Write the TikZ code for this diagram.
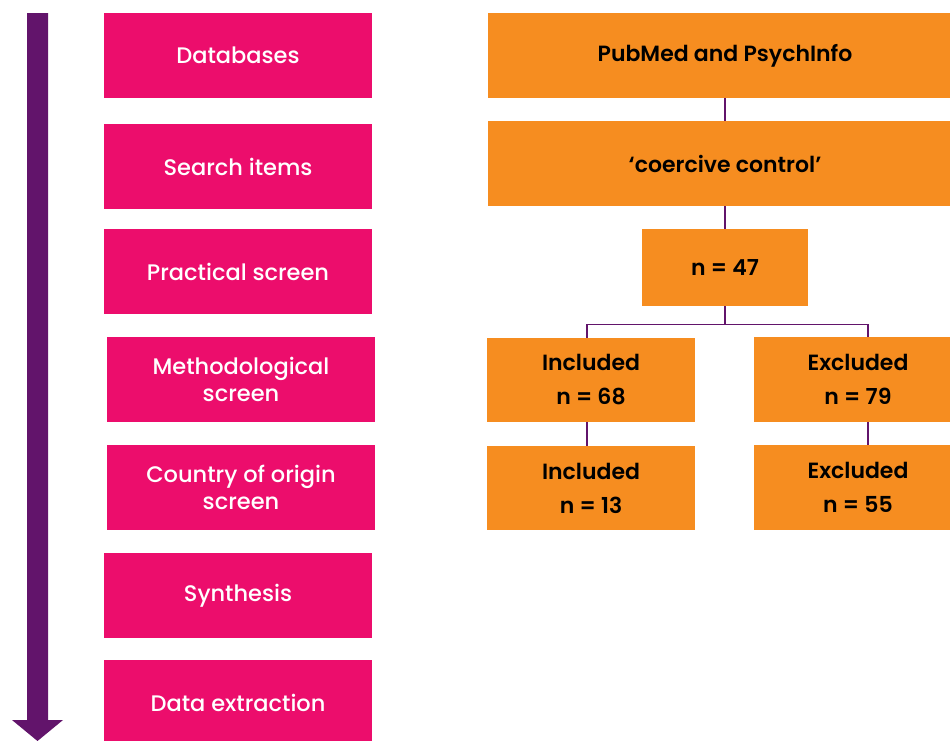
\documentclass[tikz,border=0pt]{standalone}
\usepackage{fontspec}
\setmainfont{Poppins}
\newfontfamily\stagefont{Poppins Medium}
\newfontfamily\resultfont{Poppins SemiBold}
\definecolor{stagepink}{HTML}{EC0D6C}
\definecolor{resultorange}{HTML}{F68D20}
\definecolor{flowpurple}{HTML}{62146B}
\begin{document}
\begin{tikzpicture}[x=1pt,y=-1pt,
  stagebox/.style={fill=stagepink,text=white,minimum width=268pt,minimum height=85pt,
    inner sep=0pt,font=\stagefont\fontsize{22.5}{27}\selectfont,align=center},
  resultbox/.style={fill=resultorange,text=black,inner sep=0pt,
    font=\resultfont\fontsize{22}{34}\selectfont,align=center},
  link/.style={draw=flowpurple,line width=1.3pt}]
\useasboundingbox (0,0) rectangle (950,740);
\clip (0,0) rectangle (950,740);

% timeline arrow
\fill[flowpurple] (27,13) -- (48,13) -- (48,720) -- (63,720) -- (37.5,741)
  -- (12,720) -- (27,720) -- cycle;

% stages
\node[stagebox] (db)   at (238,55.5)  {Databases};
\node[stagebox] (si)   at (238,166.5) {Search items};
\node[stagebox] (ps)   at (238,271.5) {Practical screen};
\node[stagebox] (ms)   at (241,379.5) {Methodological\\screen};
\node[stagebox] (cs)   at (241,487.5) {Country of origin\\screen};
\node[stagebox] (syn)  at (238,595.5) {Synthesis};
\node[stagebox] (dx)   at (238,702.5) {Data extraction};

% results
\node[resultbox,minimum width=474pt,minimum height=85pt] (pub) at (725,55.5) {PubMed and PsychInfo};
\node[resultbox,minimum width=474pt,minimum height=85pt] (coe) at (725,163.5) {‘coercive control’};
\node[resultbox,minimum width=166pt,minimum height=77pt] (n47) at (725,267.5) {n = 47};
\node[resultbox,minimum width=208pt,minimum height=84pt] (inA) at (591,380) {Included\\n = 68};
\node[resultbox,minimum width=208pt,minimum height=85pt] (exA) at (858,379.5) {Excluded\\n = 79};
\node[resultbox,minimum width=208pt,minimum height=84pt] (inB) at (591,488) {Included\\n = 13};
\node[resultbox,minimum width=208pt,minimum height=85pt] (exB) at (858,487.5) {Excluded\\n = 55};

% connectors
\draw[link] (pub.south) -- (coe.north);
\draw[link] (coe.south) -- (n47.north);
\draw[link] (n47.south) -- ++(0,18) -| ([xshift=-4pt]inA.north);
\draw[link] (n47.south) -- ++(0,18) -| ([xshift=10pt]exA.north);
\draw[link] ([xshift=-4pt]inA.south) -- ([xshift=-4pt]inB.north);
\draw[link] ([xshift=10pt]exA.south) -- ([xshift=10pt]exB.north);
\end{tikzpicture}
\end{document}
